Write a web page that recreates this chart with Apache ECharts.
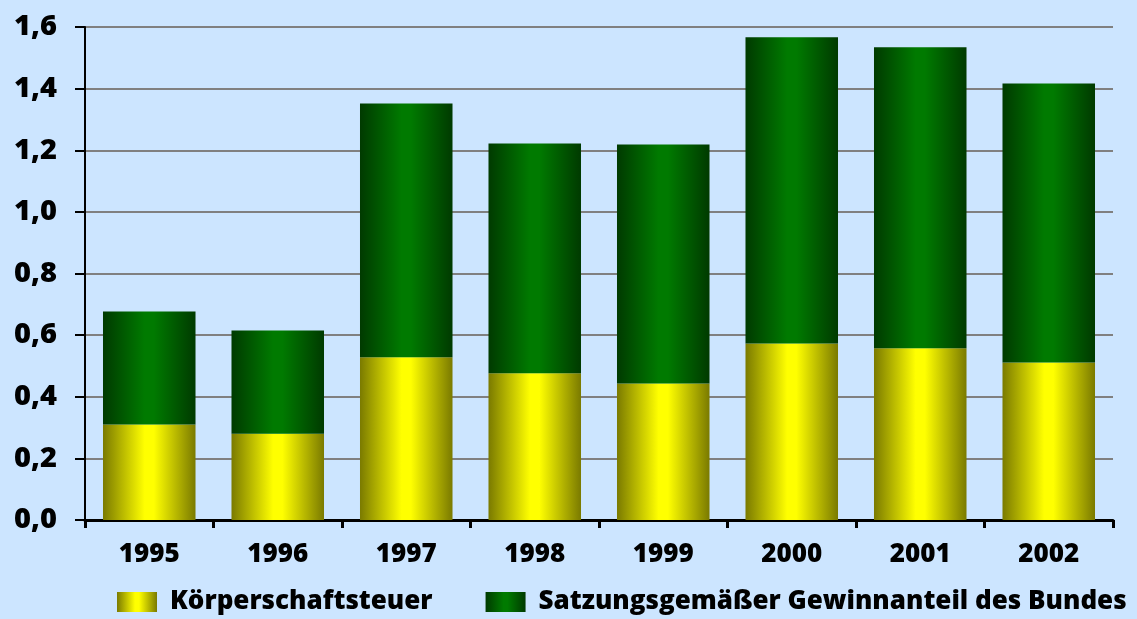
<!DOCTYPE html>
<html>
<head>
<meta charset="utf-8">
<script src="https://cdn.jsdelivr.net/npm/echarts@6/dist/echarts.min.js"></script>
<style>
  html, body { margin: 0; padding: 0; background: #cce5ff; }
  #chart { width: 1137px; height: 619px; }
</style>
</head>
<body>
<div id="chart"></div>
<script>
const years = ['1995', '1996', '1997', '1998', '1999', '2000', '2001', '2002']
const koerperschaftsteuer = [0.31, 0.28, 0.528, 0.476, 0.443, 0.573, 0.557, 0.511]
const gewinnanteil = [0.367, 0.335, 0.824, 0.746, 0.776, 0.994, 0.977, 0.906]
const seriesNames = ['Körperschaftsteuer', 'Satzungsgemäßer Gewinnanteil des Bundes']

const barGradient = (edge, mid) => new echarts.graphic.LinearGradient(0, 0, 1, 0, [
  { offset: 0, color: edge },
  { offset: 0.45, color: mid },
  { offset: 0.55, color: mid },
  { offset: 1, color: edge }
])

const chart = echarts.init(document.getElementById('chart'))
const font = '"Open Sans", Lato, sans-serif'

const option = {
  backgroundColor: '#cce5ff',
  animation: false,
  grid: {
    left: 85,
    right: 24,
    top: 27,
    bottom: 99
  },
  legend: {
    left: 117,
    bottom: 4,
    width: 1020,
    padding: 0,
    icon: 'rect',
    itemWidth: 40,
    itemHeight: 20,
    itemGap: 53,
    data: seriesNames,
    textStyle: {
      fontFamily: font,
      fontWeight: 800,
      fontSize: 26,
      color: '#000',
      padding: [0, 0, 0, 8]
    }
  },
  xAxis: {
    type: 'category',
    data: years,
    axisLine: { lineStyle: { color: '#000', width: 3 } },
    axisTick: { show: true, length: 8, lineStyle: { color: '#000', width: 3 } },
    axisLabel: {
      color: '#000',
      fontFamily: font,
      fontWeight: 800,
      fontSize: 26,
      margin: 22
    }
  },
  yAxis: {
    type: 'value',
    min: 0,
    max: 1.6,
    interval: 0.2,
    axisLine: { show: true, lineStyle: { color: '#000', width: 2 } },
    axisTick: { show: true, length: 10, lineStyle: { color: '#000', width: 2 } },
    splitLine: { lineStyle: { color: '#808080', width: 2 } },
    axisLabel: {
      color: '#000',
      fontFamily: font,
      fontWeight: 800,
      fontSize: 29,
      margin: 28,
      formatter: v => v.toFixed(1).replace('.', ',')
    }
  },
  series: [
    {
      name: seriesNames[0],
      type: 'bar',
      stack: 'total',
      barCategoryGap: '28%',
      data: koerperschaftsteuer,
      itemStyle: { color: barGradient('#7a7a00', '#ffff00') }
    },
    {
      name: seriesNames[1],
      type: 'bar',
      stack: 'total',
      barCategoryGap: '28%',
      data: gewinnanteil,
      itemStyle: { color: barGradient('#003a00', '#007a00') }
    }
  ]
}

chart.setOption(option)
</script>
</body>
</html>
